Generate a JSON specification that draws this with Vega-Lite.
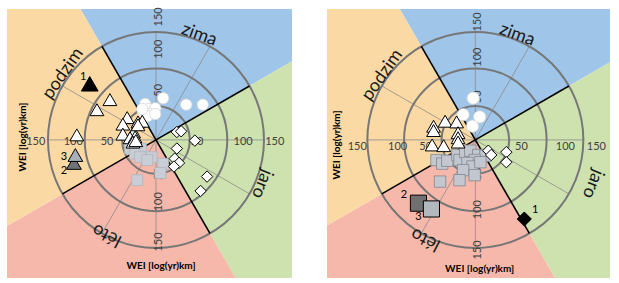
{
  "$schema": "https://vega.github.io/schema/vega-lite/v6.json",
  "padding": {"left": 7, "top": 7, "right": 0, "bottom": 0},
  "background": "white",
  "spacing": 35,
  "config": {"view": {"stroke": null}, "text": {"font": "Lato"}},
  "datasets": {
    "sectors": [
      {"x": 0, "y": 0, "season": "zima", "t1": -30, "t2": 60},
      {"x": 0, "y": 0, "season": "jaro", "t1": 60, "t2": 150},
      {"x": 0, "y": 0, "season": "léto", "t1": 150, "t2": 240},
      {"x": 0, "y": 0, "season": "podzim", "t1": 240, "t2": 330}
    ],
    "rings": [{"x": 0, "y": 0, "r": 47}, {"x": 0, "y": 0, "r": 99}, {"x": 0, "y": 0, "r": 150}],
    "spokes": [
      {"x": 0, "y": 0, "x2": 150, "y2": 0},
      {"x": 0, "y": 0, "x2": 75, "y2": 129.9},
      {"x": 0, "y": 0, "x2": 0, "y2": 150},
      {"x": 0, "y": 0, "x2": -129.9, "y2": 75},
      {"x": 0, "y": 0, "x2": -150, "y2": 0},
      {"x": 0, "y": 0, "x2": -75, "y2": -129.9},
      {"x": 0, "y": 0, "x2": 0, "y2": -150},
      {"x": 0, "y": 0, "x2": 129.9, "y2": -75}
    ],
    "bounds": [
      {"x": 0, "y": 0, "x2": 129.9, "y2": 75},
      {"x": 0, "y": 0, "x2": -75, "y2": 129.9},
      {"x": 0, "y": 0, "x2": -129.9, "y2": -75},
      {"x": 0, "y": 0, "x2": 75, "y2": -129.9}
    ],
    "p1_pts": [
      {"m": "square", "x": -36, "y": -12}, {"m": "square", "x": -21, "y": -12}, {"m": "square", "x": -29, "y": -19},
      {"m": "square", "x": -22, "y": -24}, {"m": "square", "x": -6, "y": -24}, {"m": "square", "x": -12, "y": -28},
      {"m": "square", "x": 10, "y": -33}, {"m": "square", "x": 6, "y": -46}, {"m": "square", "x": -26, "y": -56},
      {"m": "circle", "x": 10, "y": 58}, {"m": "circle", "x": 42, "y": 49}, {"m": "circle", "x": 65, "y": 49},
      {"m": "circle", "x": -15, "y": 50}, {"m": "circle", "x": -10, "y": 43}, {"m": "circle", "x": -1, "y": 44},
      {"m": "circle", "x": -18, "y": 39}, {"m": "circle", "x": -8, "y": 36}, {"m": "circle", "x": -12, "y": 33},
      {"m": "circle", "x": -1, "y": 36}, {"m": "circle", "x": -19, "y": 43},
      {"m": "diamond", "x": 29, "y": 11}, {"m": "diamond", "x": 35, "y": 12}, {"m": "diamond", "x": 54, "y": -1},
      {"m": "diamond", "x": 29, "y": -12}, {"m": "diamond", "x": 26, "y": -26}, {"m": "diamond", "x": 32, "y": -32},
      {"m": "diamond", "x": 25, "y": -37}, {"m": "diamond", "x": 71, "y": -51}, {"m": "diamond", "x": 62, "y": -71},
      {"m": "tri_w", "x": -64, "y": 56}, {"m": "tri_w", "x": -82, "y": 42}, {"m": "tri_w", "x": -110, "y": 7},
      {"m": "tri_w", "x": -40, "y": 31}, {"m": "tri_w", "x": -46, "y": 22}, {"m": "tri_w", "x": -25, "y": 25},
      {"m": "tri_w", "x": -19, "y": 26}, {"m": "tri_w", "x": -46, "y": 8}, {"m": "tri_w", "x": -31, "y": 11},
      {"m": "tri_w", "x": -36, "y": 3}, {"m": "tri_w", "x": -29, "y": 4}, {"m": "tri_w", "x": -32, "y": -3},
      {"m": "tri_w", "x": -28, "y": -1}, {"m": "tri_w", "x": -25, "y": 21},
      {"m": "tri_b", "x": -92, "y": 78},
      {"m": "tri_g2", "x": -114, "y": -32},
      {"m": "tri_g3", "x": -112, "y": -21}
    ],
    "p1_num": [
      {"label": "1", "x": -101, "y": 88}, {"label": "3", "x": -128, "y": -24}, {"label": "2", "x": -128, "y": -43}
    ],
    "p1_ticks_h": [
      {"label": "150", "x": -167, "y": -3}, {"label": "100", "x": -115, "y": -3}, {"label": "50", "x": -68, "y": -3},
      {"label": "50", "x": 57, "y": -3}, {"label": "100", "x": 121, "y": -3}, {"label": "150", "x": 165, "y": -3}
    ],
    "p1_ticks_v": [
      {"label": "150", "x": 4, "y": 171}, {"label": "100", "x": 4, "y": 126}, {"label": "50", "x": 4, "y": 69},
      {"label": "50", "x": 4, "y": -47}, {"label": "100", "x": 4, "y": -86}, {"label": "150", "x": 4, "y": -142}
    ],
    "p1_season": [
      {"label": "zima", "x": 60, "y": 146}, {"label": "podzim", "x": -129, "y": 92},
      {"label": "jaro", "x": 147, "y": -61}, {"label": "léto", "x": -68, "y": -132}
    ],
    "p1_titles": [{"label": "WEI [log(yr)km]", "x": 7, "y": -176, "v": "h"}, {"label": "WEI [log(yr)km]", "x": -185, "y": 4, "v": "v"}],
    "p2_pts": [
      {"m": "square", "x": -54, "y": -28}, {"m": "square", "x": -46, "y": -33}, {"m": "square", "x": -39, "y": -29},
      {"m": "square", "x": -25, "y": -21}, {"m": "square", "x": -22, "y": -28}, {"m": "square", "x": -14, "y": -17},
      {"m": "square", "x": -7, "y": -15}, {"m": "square", "x": 4, "y": -21}, {"m": "square", "x": 14, "y": -22},
      {"m": "square", "x": -1, "y": -28}, {"m": "square", "x": -11, "y": -32}, {"m": "square", "x": -4, "y": -37},
      {"m": "square", "x": 7, "y": -31}, {"m": "square", "x": -17, "y": -42}, {"m": "square", "x": -1, "y": -49},
      {"m": "square", "x": -22, "y": -56}, {"m": "square", "x": -49, "y": -58},
      {"m": "sq_g2", "x": -79, "y": -88}, {"m": "sq_g3", "x": -61, "y": -96},
      {"m": "circle", "x": -3, "y": 58}, {"m": "circle", "x": -17, "y": 35}, {"m": "circle", "x": 6, "y": 32},
      {"m": "circle", "x": -4, "y": 19},
      {"m": "tri_w", "x": -58, "y": 19}, {"m": "tri_w", "x": -58, "y": 13}, {"m": "tri_w", "x": -42, "y": 26},
      {"m": "tri_w", "x": -26, "y": 25}, {"m": "tri_w", "x": -24, "y": 10}, {"m": "tri_w", "x": -24, "y": 3},
      {"m": "tri_w", "x": -24, "y": -3}, {"m": "tri_w", "x": -60, "y": -7}, {"m": "tri_w", "x": -44, "y": -8},
      {"m": "diamond", "x": 18, "y": -15}, {"m": "diamond", "x": 22, "y": -21}, {"m": "diamond", "x": 43, "y": -17},
      {"m": "diamond", "x": 43, "y": -31},
      {"m": "diamond_b", "x": 68, "y": -110}
    ],
    "p2_num": [
      {"label": "1", "x": 83, "y": -97}, {"label": "2", "x": -99, "y": -76}, {"label": "3", "x": -79, "y": -107}
    ],
    "p2_ticks_h": [
      {"label": "150", "x": -164, "y": -10}, {"label": "100", "x": -108, "y": -10}, {"label": "50", "x": -69, "y": -10},
      {"label": "50", "x": 64, "y": -10}, {"label": "100", "x": 125, "y": -10}, {"label": "150", "x": 168, "y": -10}
    ],
    "p2_ticks_v": [
      {"label": "150", "x": 4, "y": 164}, {"label": "100", "x": 4, "y": 115}, {"label": "50", "x": 4, "y": 60},
      {"label": "50", "x": 4, "y": -47}, {"label": "100", "x": 4, "y": -97}, {"label": "150", "x": 4, "y": -153}
    ],
    "p2_season": [
      {"label": "zima", "x": 58, "y": 146}, {"label": "podzim", "x": -129, "y": 90},
      {"label": "jaro", "x": 163, "y": -61}, {"label": "léto", "x": -69, "y": -138}
    ],
    "p2_titles": [{"label": "WEI [log(yr)km]", "x": 6, "y": -179, "v": "h"}, {"label": "WEI [log(yr)km]", "x": -192, "y": -7, "v": "v"}]
  },
  "hconcat": [
    {
      "width": 285,
      "height": 269,
      "encoding": {
        "x": {"field": "x", "type": "quantitative", "scale": {"domain": [-207, 189], "nice": false, "zero": false}, "axis": null},
        "y": {"field": "y", "type": "quantitative", "scale": {"domain": [-192, 182], "nice": false, "zero": false}, "axis": null}
      },
      "layer": [
        {"data": {"name": "sectors"}, "mark": {"type": "arc", "clip": true, "strokeWidth": 0},
         "encoding": {
           "theta": {"field": "t1", "type": "quantitative", "stack": null, "scale": {"domain": [0, 360], "range": [0, 6.283185307179586]}},
           "theta2": {"field": "t2"},
           "radius": {"datum": 400, "type": "quantitative", "scale": {"type": "linear", "domain": [0, 150], "range": [0, 108], "zero": true}},
           "color": {"field": "season", "type": "nominal", "scale": {"domain": ["zima", "jaro", "léto", "podzim"], "range": ["#9fc5e8", "#cee2b0", "#f6b8aa", "#fbd9a4"]}, "legend": null}
         }},
        {"data": {"name": "spokes"}, "mark": {"type": "rule", "stroke": "#8c8c8c", "strokeWidth": 0.8},
         "encoding": {"x2": {"field": "x2"}, "y2": {"field": "y2"}}},
        {"data": {"name": "rings"}, "mark": {"type": "point", "shape": "circle", "filled": false, "fill": "transparent", "stroke": "#777777", "strokeWidth": 2, "opacity": 1},
         "encoding": {
           "size": {"field": "r", "type": "quantitative", "legend": null, "scale": {"type": "pow", "exponent": 2, "domain": [0, 150], "range": [0, 46656], "zero": true}}
         }},
        {"data": {"name": "bounds"}, "mark": {"type": "rule", "stroke": "#000000", "strokeWidth": 1.6},
         "encoding": {"x2": {"field": "x2"}, "y2": {"field": "y2"}}},
        {"data": {"name": "p1_ticks_h"}, "mark": {"type": "text", "fontSize": 11, "color": "#404040"},
         "encoding": {"text": {"field": "label"}}},
        {"data": {"name": "p1_ticks_v"}, "mark": {"type": "text", "fontSize": 11, "color": "#404040", "angle": 270},
         "encoding": {"text": {"field": "label"}}},
        {"data": {"name": "p1_season"}, "transform": [{"filter": "datum.label == 'zima'"}], "mark": {"type": "text", "fontSize": 18, "color": "#1a1a1a", "angle": 20}, "encoding": {"text": {"field": "label"}}},
        {"data": {"name": "p1_season"}, "transform": [{"filter": "datum.label == 'podzim'"}], "mark": {"type": "text", "fontSize": 18, "color": "#1a1a1a", "angle": 305}, "encoding": {"text": {"field": "label"}}},
        {"data": {"name": "p1_season"}, "transform": [{"filter": "datum.label == 'jaro'"}], "mark": {"type": "text", "fontSize": 18, "color": "#1a1a1a", "angle": 112}, "encoding": {"text": {"field": "label"}}},
        {"data": {"name": "p1_season"}, "transform": [{"filter": "datum.label == 'léto'"}], "mark": {"type": "text", "fontSize": 18, "color": "#1a1a1a", "angle": 207}, "encoding": {"text": {"field": "label"}}},
        {"data": {"name": "p1_pts"}, "transform": [{"filter": "datum.m == 'square'"}], "mark": {"type": "point", "shape": "square", "filled": true, "fill": "#c8cdd6", "stroke": "#b0b5bf", "strokeWidth": 0.8, "size": 120, "opacity": 1}},
        {"data": {"name": "p1_pts"}, "transform": [{"filter": "datum.m == 'circle'"}], "mark": {"type": "point", "shape": "circle", "filled": true, "fill": "#ffffff", "stroke": "#d6d6d6", "strokeWidth": 0.8, "size": 130, "opacity": 1}},
        {"data": {"name": "p1_pts"}, "transform": [{"filter": "datum.m == 'diamond'"}], "mark": {"type": "point", "shape": "diamond", "filled": true, "fill": "#ffffff", "stroke": "#000000", "strokeWidth": 1, "size": 130, "opacity": 1}},
        {"data": {"name": "p1_pts"}, "transform": [{"filter": "datum.m == 'tri_w'"}], "mark": {"type": "point", "shape": "triangle-up", "filled": true, "fill": "#ffffff", "stroke": "#000000", "strokeWidth": 1, "size": 190, "opacity": 1}},
        {"data": {"name": "p1_pts"}, "transform": [{"filter": "datum.m == 'tri_b'"}], "mark": {"type": "point", "shape": "triangle-up", "filled": true, "fill": "#000000", "stroke": "#000000", "strokeWidth": 1, "size": 280, "opacity": 1}},
        {"data": {"name": "p1_pts"}, "transform": [{"filter": "datum.m == 'tri_g2'"}], "mark": {"type": "point", "shape": "triangle-up", "filled": true, "fill": "#6f7378", "stroke": "#000000", "strokeWidth": 1, "size": 220, "opacity": 1}},
        {"data": {"name": "p1_pts"}, "transform": [{"filter": "datum.m == 'tri_g3'"}], "mark": {"type": "point", "shape": "triangle-up", "filled": true, "fill": "#a7afb8", "stroke": "#000000", "strokeWidth": 1, "size": 220, "opacity": 1}},
        {"data": {"name": "p1_num"}, "mark": {"type": "text", "fontSize": 11, "color": "#000000"}, "encoding": {"text": {"field": "label"}}},
        {"data": {"name": "p1_titles"}, "transform": [{"filter": "datum.v == 'h'"}], "mark": {"type": "text", "fontSize": 10, "fontWeight": "bold", "color": "#000000"}, "encoding": {"text": {"field": "label"}}},
        {"data": {"name": "p1_titles"}, "transform": [{"filter": "datum.v == 'v'"}], "mark": {"type": "text", "fontSize": 10, "fontWeight": "bold", "color": "#000000", "angle": 270}, "encoding": {"text": {"field": "label"}}}
      ]
    },
    {
      "width": 283,
      "height": 269,
      "encoding": {
        "x": {"field": "x", "type": "quantitative", "scale": {"domain": [-206, 187], "nice": false, "zero": false}, "axis": null},
        "y": {"field": "y", "type": "quantitative", "scale": {"domain": [-192, 182], "nice": false, "zero": false}, "axis": null}
      },
      "layer": [
        {"data": {"name": "sectors"}, "mark": {"type": "arc", "clip": true, "strokeWidth": 0},
         "encoding": {
           "theta": {"field": "t1", "type": "quantitative", "stack": null, "scale": {"domain": [0, 360], "range": [0, 6.283185307179586]}},
           "theta2": {"field": "t2"},
           "radius": {"datum": 400, "type": "quantitative", "scale": {"type": "linear", "domain": [0, 150], "range": [0, 108], "zero": true}},
           "color": {"field": "season", "type": "nominal", "scale": {"domain": ["zima", "jaro", "léto", "podzim"], "range": ["#9fc5e8", "#cee2b0", "#f6b8aa", "#fbd9a4"]}, "legend": null}
         }},
        {"data": {"name": "spokes"}, "mark": {"type": "rule", "stroke": "#8c8c8c", "strokeWidth": 0.8},
         "encoding": {"x2": {"field": "x2"}, "y2": {"field": "y2"}}},
        {"data": {"name": "rings"}, "mark": {"type": "point", "shape": "circle", "filled": false, "fill": "transparent", "stroke": "#777777", "strokeWidth": 2, "opacity": 1},
         "encoding": {
           "size": {"field": "r", "type": "quantitative", "legend": null, "scale": {"type": "pow", "exponent": 2, "domain": [0, 150], "range": [0, 46656], "zero": true}}
         }},
        {"data": {"name": "bounds"}, "mark": {"type": "rule", "stroke": "#000000", "strokeWidth": 1.6},
         "encoding": {"x2": {"field": "x2"}, "y2": {"field": "y2"}}},
        {"data": {"name": "p2_ticks_h"}, "mark": {"type": "text", "fontSize": 11, "color": "#404040"},
         "encoding": {"text": {"field": "label"}}},
        {"data": {"name": "p2_ticks_v"}, "mark": {"type": "text", "fontSize": 11, "color": "#404040", "angle": 270},
         "encoding": {"text": {"field": "label"}}},
        {"data": {"name": "p2_season"}, "transform": [{"filter": "datum.label == 'zima'"}], "mark": {"type": "text", "fontSize": 18, "color": "#1a1a1a", "angle": 20}, "encoding": {"text": {"field": "label"}}},
        {"data": {"name": "p2_season"}, "transform": [{"filter": "datum.label == 'podzim'"}], "mark": {"type": "text", "fontSize": 18, "color": "#1a1a1a", "angle": 305}, "encoding": {"text": {"field": "label"}}},
        {"data": {"name": "p2_season"}, "transform": [{"filter": "datum.label == 'jaro'"}], "mark": {"type": "text", "fontSize": 18, "color": "#1a1a1a", "angle": 112}, "encoding": {"text": {"field": "label"}}},
        {"data": {"name": "p2_season"}, "transform": [{"filter": "datum.label == 'léto'"}], "mark": {"type": "text", "fontSize": 18, "color": "#1a1a1a", "angle": 207}, "encoding": {"text": {"field": "label"}}},
        {"data": {"name": "p2_pts"}, "transform": [{"filter": "datum.m == 'square'"}], "mark": {"type": "point", "shape": "square", "filled": true, "fill": "#c3c8d0", "stroke": "#80868f", "strokeWidth": 0.8, "size": 130, "opacity": 1}},
        {"data": {"name": "p2_pts"}, "transform": [{"filter": "datum.m == 'sq_g2'"}], "mark": {"type": "point", "shape": "square", "filled": true, "fill": "#707070", "stroke": "#000000", "strokeWidth": 1, "size": 260, "opacity": 1}},
        {"data": {"name": "p2_pts"}, "transform": [{"filter": "datum.m == 'sq_g3'"}], "mark": {"type": "point", "shape": "square", "filled": true, "fill": "#b3b8bf", "stroke": "#000000", "strokeWidth": 1, "size": 260, "opacity": 1}},
        {"data": {"name": "p2_pts"}, "transform": [{"filter": "datum.m == 'circle'"}], "mark": {"type": "point", "shape": "circle", "filled": true, "fill": "#ffffff", "stroke": "#d6d6d6", "strokeWidth": 0.8, "size": 150, "opacity": 1}},
        {"data": {"name": "p2_pts"}, "transform": [{"filter": "datum.m == 'diamond'"}], "mark": {"type": "point", "shape": "diamond", "filled": true, "fill": "#ffffff", "stroke": "#000000", "strokeWidth": 1, "size": 130, "opacity": 1}},
        {"data": {"name": "p2_pts"}, "transform": [{"filter": "datum.m == 'diamond_b'"}], "mark": {"type": "point", "shape": "diamond", "filled": true, "fill": "#000000", "stroke": "#000000", "strokeWidth": 1, "size": 200, "opacity": 1}},
        {"data": {"name": "p2_pts"}, "transform": [{"filter": "datum.m == 'tri_w'"}], "mark": {"type": "point", "shape": "triangle-up", "filled": true, "fill": "#ffffff", "stroke": "#000000", "strokeWidth": 1, "size": 190, "opacity": 1}},
        {"data": {"name": "p2_num"}, "mark": {"type": "text", "fontSize": 11, "color": "#000000"}, "encoding": {"text": {"field": "label"}}},
        {"data": {"name": "p2_titles"}, "transform": [{"filter": "datum.v == 'h'"}], "mark": {"type": "text", "fontSize": 10, "fontWeight": "bold", "color": "#000000"}, "encoding": {"text": {"field": "label"}}},
        {"data": {"name": "p2_titles"}, "transform": [{"filter": "datum.v == 'v'"}], "mark": {"type": "text", "fontSize": 10, "fontWeight": "bold", "color": "#000000", "angle": 270}, "encoding": {"text": {"field": "label"}}}
      ]
    }
  ]
}
